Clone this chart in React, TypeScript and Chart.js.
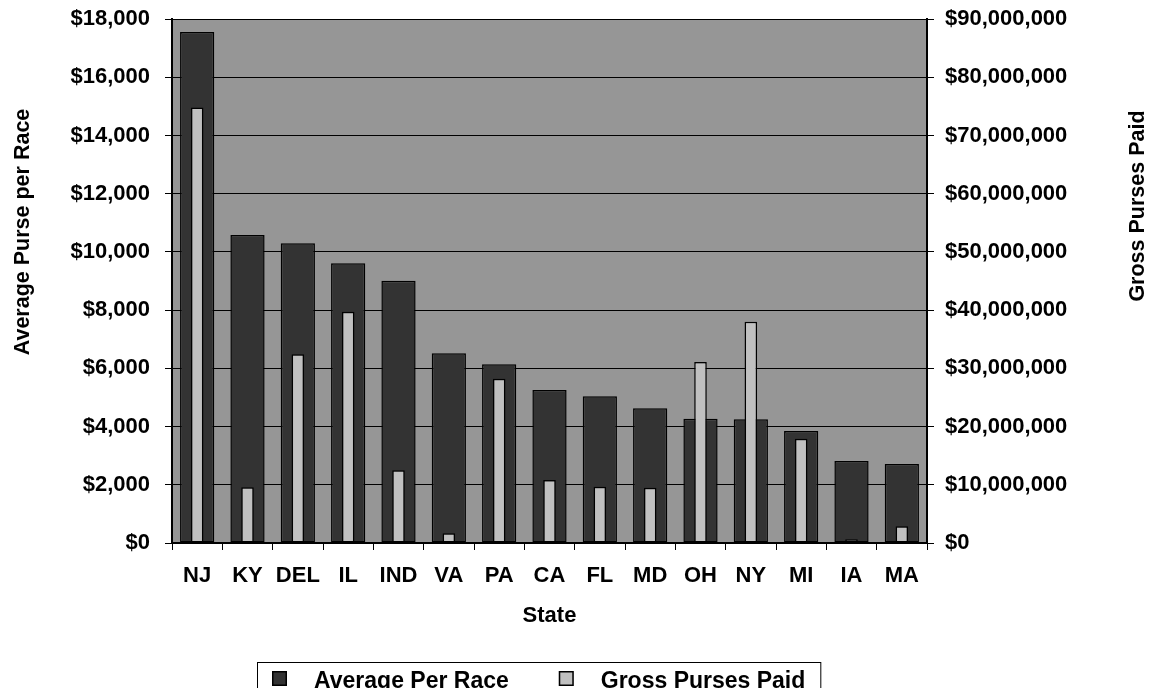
import React, { useEffect, useRef } from 'react';
import { Chart, registerables } from 'chart.js';

Chart.register(...registerables);

// ---- Data ----
const states = ['NJ', 'KY', 'DEL', 'IL', 'IND', 'VA', 'PA', 'CA', 'FL', 'MD', 'OH', 'NY', 'MI', 'IA', 'MA'];
const averagePerRace = [17550, 10580, 10300, 9610, 9010, 6520, 6140, 5260, 5040, 4630, 4270, 4250, 3850, 2820, 2710];
const grossPursesPaid = [
  74800000, 9560000, 32400000, 39700000, 12500000, 1660000, 28200000, 10800000,
  9670000, 9500000, 31100000, 38000000, 17900000, 640000, 2870000,
];
const seriesLabels = ['Average Per Race', 'Gross Purses Paid'];
const leftAxisTitle = 'Average Purse per Race';
const rightAxisTitle = 'Gross Purses Paid';
const xAxisTitle = 'State';
const leftAxisMax = 18000;
const leftAxisStep = 2000;
const rightAxisMax = 90000000;
const rightAxisStep = 10000000;

const FONT = '"Liberation Sans", Arial, Helvetica, sans-serif';
const money = (v: number | string) => '$' + Number(v).toLocaleString('en-US');

const plotBackground = {
  id: 'plotBackground',
  beforeDraw(chart: any) {
    const { ctx, chartArea: a } = chart;
    ctx.save();
    ctx.fillStyle = '#969696';
    ctx.fillRect(a.left, a.top, a.right - a.left, a.bottom - a.top);
    ctx.restore();
  },
};

const sideTitles = {
  id: 'sideTitles',
  afterDraw(chart: any) {
    const ctx = chart.ctx;
    ctx.save();
    ctx.font = `bold 21.5px ${FONT}`;
    ctx.fillStyle = '#000';
    ctx.textAlign = 'center';
    ctx.textBaseline = 'alphabetic';
    ctx.save();
    ctx.translate(29, 232);
    ctx.rotate(-Math.PI / 2);
    ctx.fillText(leftAxisTitle, 0, 0);
    ctx.restore();
    ctx.save();
    ctx.translate(1144, 206);
    ctx.rotate(-Math.PI / 2);
    ctx.fillText(rightAxisTitle, 0, 0);
    ctx.restore();
    ctx.restore();
  },
};

const boxedLegend = {
  id: 'boxedLegend',
  afterDraw(chart: any) {
    const ctx = chart.ctx;
    const datasets = chart.data.datasets;
    ctx.save();
    ctx.font = `bold 23px ${FONT}`;
    const boxX = 257;
    const boxY = 662;
    const pad = 15;
    const marker = 15;
    const gapText = 27;
    const gapItem = 50;
    let x = boxX + pad;
    const items = datasets.map((d: any) => {
      const w = ctx.measureText(d.label).width;
      const it = { x, w, d };
      x += marker + gapText + w + gapItem;
      return it;
    });
    const boxRight = x - gapItem + pad;
    ctx.strokeStyle = '#000';
    ctx.lineWidth = 1;
    ctx.strokeRect(boxX + 0.5, boxY + 0.5, boxRight - boxX, 45);
    items.forEach((it: any) => {
      ctx.fillStyle = it.d.backgroundColor;
      ctx.fillRect(it.x, 671, marker, marker);
      ctx.strokeStyle = '#000';
      ctx.lineWidth = 1.5;
      ctx.strokeRect(it.x + 0.75, 671.75, marker - 1.5, marker - 1.5);
      ctx.fillStyle = '#000';
      ctx.textAlign = 'left';
      ctx.textBaseline = 'alphabetic';
      ctx.fillText(it.d.label, it.x + marker + gapText, 688);
    });
    ctx.restore();
  },
};

export default function App() {
  const canvasRef = useRef<HTMLCanvasElement | null>(null);

  useEffect(() => {
    const canvas = canvasRef.current;
    if (!canvas) return;
    const tickFont = { family: FONT, size: 22, weight: 'bold' as const };
    const chart = new Chart(canvas, {
      type: 'bar',
      data: {
        labels: states,
        datasets: [
          {
            label: seriesLabels[0],
            data: averagePerRace,
            yAxisID: 'y',
            backgroundColor: '#333333',
            borderColor: '#000000',
            borderWidth: 1.5,
            borderSkipped: false,
            grouped: false,
            categoryPercentage: 1,
            barPercentage: 0.68,
            order: 1,
          } as any,
          {
            label: seriesLabels[1],
            data: grossPursesPaid,
            yAxisID: 'y1',
            backgroundColor: '#C0C0C0',
            borderColor: '#000000',
            borderWidth: 1.5,
            borderSkipped: false,
            grouped: false,
            categoryPercentage: 1,
            barPercentage: 0.25,
            order: 0,
          } as any,
        ],
      },
      options: {
        responsive: false,
        animation: false,
        devicePixelRatio: 1,
        layout: { padding: { top: 19, bottom: 55, left: 0, right: 0 } },
        plugins: {
          legend: { display: false },
          tooltip: { enabled: false },
          title: { display: false },
        },
        scales: {
          x: {
            offset: true,
            grid: {
              display: true,
              drawOnChartArea: false,
              drawTicks: true,
              tickLength: 7,
              tickColor: '#000',
              tickWidth: 1,
              offset: true,
            },
            border: { color: '#000', width: 2 },
            ticks: { color: '#000', font: tickFont, padding: 13, maxRotation: 0, autoSkip: false },
            title: {
              display: true,
              text: xAxisTitle,
              color: '#000',
              font: tickFont,
              padding: { top: 4, bottom: 4 },
            },
            afterFit: (s: any) => {
              s.height = 90;
              s.paddingLeft = 0;
              s.paddingRight = 0;
            },
          },
          y: {
            position: 'left',
            min: 0,
            max: leftAxisMax,
            ticks: { stepSize: leftAxisStep, callback: (v: any) => money(v), padding: 15, color: '#000', font: tickFont },
            grid: { color: '#000', lineWidth: 1, tickLength: 7, tickColor: '#000' },
            border: { color: '#000', width: 2 },
            afterFit: (s: any) => {
              s.width = 172;
              s.paddingTop = 0;
              s.paddingBottom = 0;
            },
          },
          y1: {
            position: 'right',
            min: 0,
            max: rightAxisMax,
            ticks: { stepSize: rightAxisStep, callback: (v: any) => money(v), padding: 11, color: '#000', font: tickFont },
            grid: { drawOnChartArea: false, tickLength: 7, tickColor: '#000' },
            border: { color: '#000', width: 2 },
            afterFit: (s: any) => {
              s.width = 223;
              s.paddingTop = 0;
              s.paddingBottom = 0;
            },
          },
        },
      } as any,
      plugins: [plotBackground, sideTitles, boxedLegend],
    });
    return () => chart.destroy();
  }, []);

  return (
    <div style={{ position: 'absolute', left: 0, top: 0, width: 1150, height: 688, background: '#fff' }}>
      <canvas ref={canvasRef} width={1150} height={688} style={{ display: 'block' }} />
    </div>
  );
}
